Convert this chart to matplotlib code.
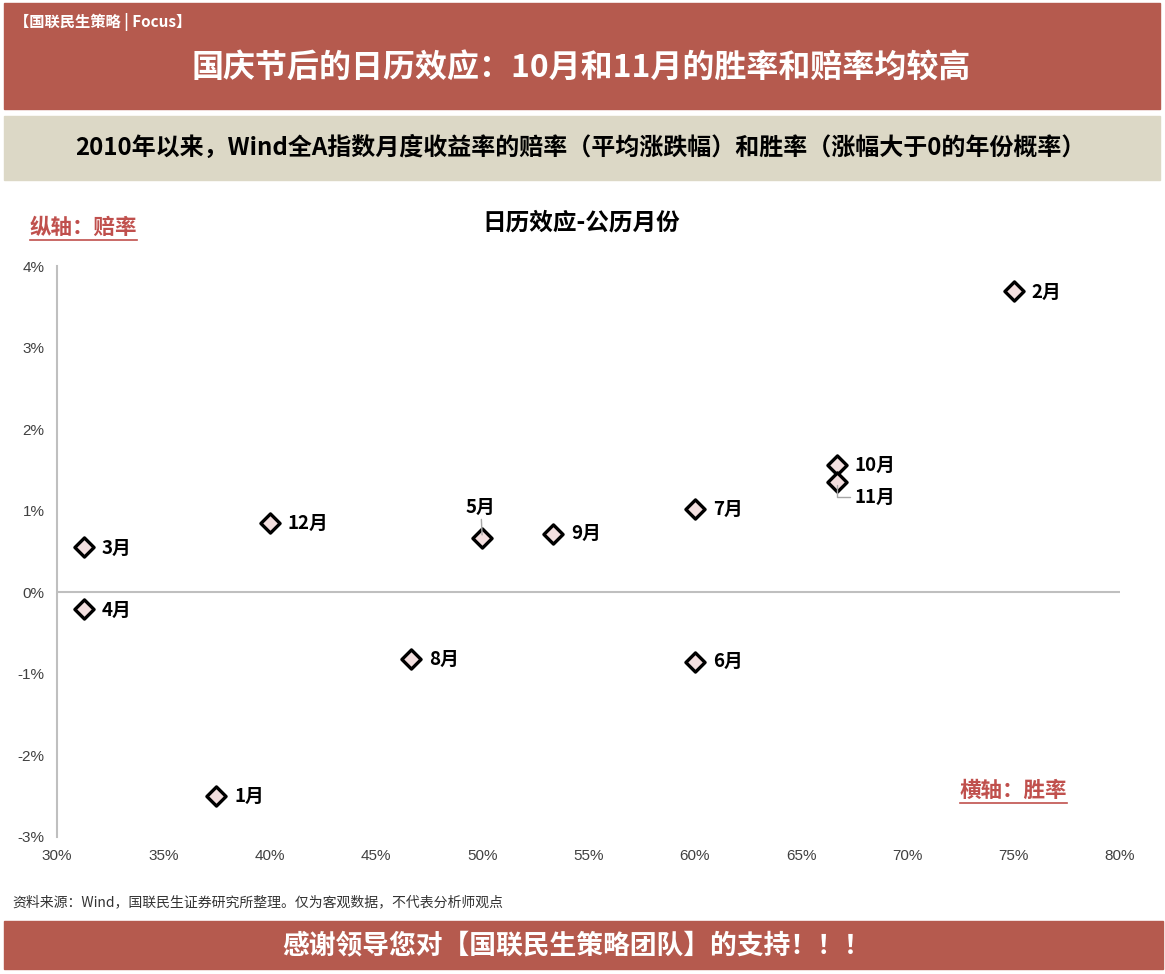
import matplotlib

matplotlib.use("Agg")
import matplotlib.pyplot as plt
from matplotlib.patches import Rectangle
from matplotlib.ticker import FuncFormatter

plt.rcParams["font.family"] = ["Noto Sans CJK SC", "DejaVu Sans"]

# data: win rate (%), average monthly return (%)
months = ["1月", "2月", "3月", "4月", "5月", "6月", "7月", "8月", "9月", "10月", "11月", "12月"]
win_rate = [37.5, 75.0, 31.25, 31.25, 50.0, 60.0, 60.0, 46.67, 53.33, 66.67, 66.67, 40.0]
avg_return = [-2.50, 3.69, 0.55, -0.21, 0.67, -0.85, 1.02, -0.82, 0.72, 1.56, 1.35, 0.85]

x_ticks = [30, 35, 40, 45, 50, 55, 60, 65, 70, 75, 80]
y_ticks = [-3, -2, -1, 0, 1, 2, 3, 4]

RED = "#b55a4e"
BEIGE = "#dcd8c6"
LABEL_RED = "#c0504d"
W, H = 1165, 974

fig = plt.figure(figsize=(W / 100, H / 100), dpi=100, facecolor="white")


def px(x, y):
    return x / W, 1 - y / H


def band(x0, y0, x1, y1, color):
    fig.patches.append(Rectangle(px(x0, y1), (x1 - x0) / W, (y1 - y0) / H,
                                 transform=fig.transFigure, color=color, zorder=0))


band(4, 3, 1160, 109, RED)
band(4, 116, 1160, 180, BEIGE)
band(4, 921, 1163, 969, RED)

fig.text(*px(14, 22), "【国联民生策略 | Focus】", color="white", fontsize=11,
         fontweight="bold", ha="left", va="center")
fig.text(*px(581, 68), "国庆节后的日历效应：10月和11月的胜率和赔率均较高", color="white",
         fontsize=23, fontweight="bold", ha="center", va="center")
fig.text(*px(580, 148), "2010年以来，Wind全A指数月度收益率的赔率（平均涨跌幅）和胜率（涨幅大于0的年份概率）",
         color="black", fontsize=17.3, fontweight="bold", ha="center", va="center")
fig.text(*px(581, 223), "日历效应-公历月份", color="black", fontsize=17,
         fontweight="bold", ha="center", va="center")
fig.text(*px(12, 902), "资料来源：Wind，国联民生证券研究所整理。仅为客观数据，不代表分析师观点",
         color="#333333", fontsize=10, ha="left", va="center", style="italic")
fig.text(*px(576, 945), "感谢领导您对【国联民生策略团队】的支持！！！", color="white",
         fontsize=19.3, fontweight="bold", ha="center", va="center")

# red axis hints with underline
for (x0, y0, txt) in [(30, 227, "纵轴：赔率"), (960, 790, "横轴：胜率")]:
    fig.text(*px(x0, y0), txt, color=LABEL_RED, fontsize=15.5, fontweight="bold",
             ha="left", va="center", style="italic")
    fig.add_artist(plt.Line2D([x0 / W, (x0 + 107) / W], [1 - (y0 + 13) / H] * 2,
                              transform=fig.transFigure, color=LABEL_RED, lw=1.2))

ax = fig.add_axes([57 / W, 1 - 837 / H, (1120 - 57) / W, (837 - 266) / H])
ax.set_xlim(30, 80)
ax.set_ylim(-3, 4)
ax.set_xticks(x_ticks)
ax.set_yticks(y_ticks)
ax.xaxis.set_major_formatter(FuncFormatter(lambda v, _: f"{v:.0f}%"))
ax.yaxis.set_major_formatter(FuncFormatter(lambda v, _: f"{v:.0f}%"))
for s in ["top", "right", "bottom"]:
    ax.spines[s].set_visible(False)
ax.spines["left"].set_color("#bfbfbf")
ax.spines["left"].set_linewidth(1.5)
ax.axhline(0, color="#bfbfbf", lw=1.5, zorder=1)
ax.tick_params(length=0, labelsize=11, labelcolor="#404040")
ax.tick_params(axis="x", pad=9)
ax.tick_params(axis="y", pad=9)
for lbl in ax.get_xticklabels() + ax.get_yticklabels():
    lbl.set_fontfamily("Liberation Sans")

ax.scatter(win_rate, avg_return, marker="D", s=95, facecolor="#f2dede",
           edgecolor="black", linewidths=2.4, zorder=3)

for name, xv, yv in zip(months, win_rate, avg_return):
    if name == "5月":
        ax.annotate(name, (xv, yv), xytext=(-1, 22), textcoords="offset points",
                    ha="center", va="center", fontsize=13.5, fontweight="bold",
                    arrowprops=dict(arrowstyle="-", color="#a6a6a6", lw=1,
                                    shrinkA=0, shrinkB=2))
    elif name == "11月":
        ax.annotate(name, (xv, yv), xytext=(13, -11), textcoords="offset points",
                    ha="left", va="center", fontsize=13.5, fontweight="bold",
                    arrowprops=dict(arrowstyle="-", color="#a6a6a6", lw=1,
                                    connectionstyle="angle,angleA=0,angleB=90,rad=0",
                                    shrinkA=1, shrinkB=2))
    else:
        dy = -1 if name in ("2月", "3月", "4月") else 0
        ax.annotate(name, (xv, yv), xytext=(13, dy), textcoords="offset points",
                    ha="left", va="center", fontsize=13.5, fontweight="bold")

fig.savefig("out.png", dpi=100, facecolor="white")
